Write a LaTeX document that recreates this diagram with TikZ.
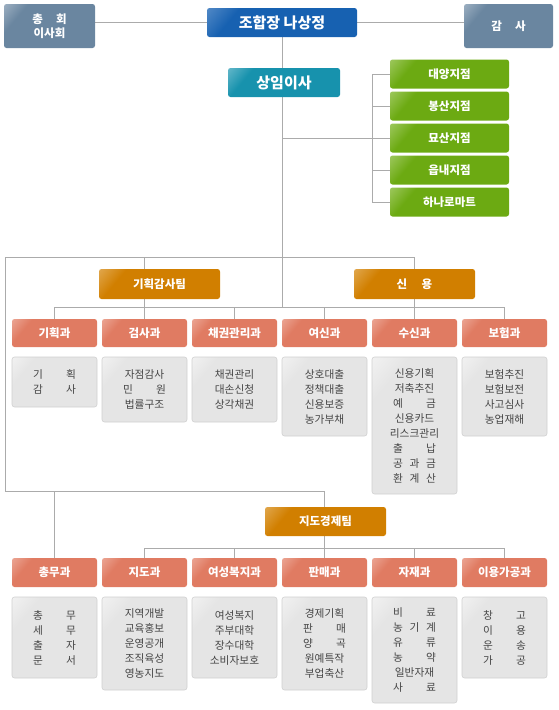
\documentclass[tikz,border=0pt]{standalone}
\usepackage{fontspec}
\setmainfont{Noto Sans CJK KR}
\usetikzlibrary{backgrounds}
\newcommand\mkgloss[3]{%
  \definecolor{#1Base}{HTML}{#2}\definecolor{#1Hi}{HTML}{#3}%
  \pgfdeclarehorizontalshading{#1gloss}{100bp}{color(0bp)=(#1Hi); color(28bp)=(#1Base); color(100bp)=(#1Base)}}
\mkgloss{steel}{6A86A0}{D3DCE5}
\mkgloss{chief}{1761B1}{8FB3DD}
\mkgloss{teal}{1792AD}{B5DFE8}
\mkgloss{leaf}{6CAA12}{D2E8AE}
\mkgloss{amber}{D17F00}{F1D2A0}
\mkgloss{salmon}{E07B62}{F7D3CA}
\mkgloss{paper}{E5E5E5}{FFFFFF}
\definecolor{lineC}{HTML}{ABABAB}
\definecolor{paperLine}{HTML}{D0D0D0}
\definecolor{inkC}{HTML}{454545}
\newcommand\sprd[2][4em]{\makebox[#1][s]{#2}}
\newcommand\placebox[7]{%
  \node[#6, minimum width={(#4-#2)*1pt}, minimum height={(#5-#3)*1pt}] (#1) at ({(#2+#4)/2},{(#3+#5)/2}) {#7};}
\tikzset{
  hbox/.style={rounded corners=2.5pt, inner sep=0pt, text=white, align=center,
    font=\bfseries\fontsize{11.5}{14}\selectfont, shading angle=-40},
  steelbox/.style={hbox, shading=steelgloss},
  chiefbox/.style={hbox, shading=chiefgloss, font=\bfseries\fontsize{15}{17}\selectfont},
  tealbox/.style={hbox, shading=tealgloss, font=\bfseries\fontsize{15}{17}\selectfont},
  leafbox/.style={hbox, shading=leafgloss},
  amberbox/.style={hbox, shading=ambergloss},
  salmonbox/.style={hbox, shading=salmongloss},
  paperbox/.style={rounded corners=2.5pt, inner sep=0pt, draw=paperLine, line width=0.6pt,
    shading=papergloss, shading angle=-40, text=inkC, align=center,
    font=\fontsize{10.7}{15}\selectfont},
  conn/.style={draw=lineC, line width=0.8pt}
}
\begin{document}
\begin{tikzpicture}[x=1pt,y=-1pt]
\useasboundingbox (0,0) rectangle (558,710);
% top level
\placebox{tg}{4}{4}{95}{48}{steelbox}{\sprd[3em]{총\hfill 회}\\이사회}
\placebox{chief}{207}{8}{357}{37}{chiefbox}{조합장 나상정}
\placebox{audit}{464}{4}{553}{48}{steelbox}{\sprd[3em]{감\hfill 사}}
\placebox{exec}{228}{68}{340}{97}{tealbox}{상임이사}
% branches
\placebox{g1}{390}{59.5}{509}{88.5}{leafbox}{대양지점}
\placebox{g2}{390}{91.5}{509}{120.5}{leafbox}{봉산지점}
\placebox{g3}{390}{123.5}{509}{152.5}{leafbox}{묘산지점}
\placebox{g4}{390}{155.5}{509}{184.5}{leafbox}{읍내지점}
\placebox{g5}{390}{187.5}{509}{216.5}{leafbox}{하나로마트}
% teams
\placebox{plan}{99}{269}{220}{299}{amberbox}{기획감사팀}
\placebox{credit}{354}{269}{475}{299}{amberbox}{\sprd[3.1em]{신\hfill 용}}
\placebox{guide}{265}{507}{386}{536}{amberbox}{지도경제팀}
% row 1 departments
\placebox{k1}{12}{319}{97}{347}{salmonbox}{기획과}
\placebox{k2}{102}{319}{187}{347}{salmonbox}{검사과}
\placebox{k3}{192}{319}{277}{347}{salmonbox}{채권관리과}
\placebox{k4}{282}{319}{367}{347}{salmonbox}{여신과}
\placebox{k5}{372}{319}{457}{347}{salmonbox}{수신과}
\placebox{k6}{462}{319}{547}{347}{salmonbox}{보험과}
% row 1 contents
\placebox{c1}{12}{357}{97}{407}{paperbox}{\sprd{기\hfill 획}\\\sprd{감\hfill 사}}
\placebox{c2}{102}{357}{187}{422}{paperbox}{자점감사\\\sprd{민\hfill 원}\\법률구조}
\placebox{c3}{192}{357}{277}{422}{paperbox}{채권관리\\대손신청\\상각채권}
\placebox{c4}{282}{357}{367}{436}{paperbox}{상호대출\\정책대출\\신용보증\\농가부채}
\placebox{c5}{372}{357}{457}{494}{paperbox}{신용기획\\저축추진\\\sprd{예\hfill 금}\\신용카드\\리스크관리\\\sprd{출\hfill 납}\\\sprd{공\hfill 과\hfill 금}\\\sprd{환\hfill 계\hfill 산}}
\placebox{c6}{462}{357}{547}{436}{paperbox}{보험추진\\보험보전\\사고심사\\농업재해}
% row 2 departments
\placebox{m1}{12}{558}{97}{587}{salmonbox}{총무과}
\placebox{m2}{102}{558}{187}{587}{salmonbox}{지도과}
\placebox{m3}{192}{558}{277}{587}{salmonbox}{여성복지과}
\placebox{m4}{282}{558}{367}{587}{salmonbox}{판매과}
\placebox{m5}{372}{558}{457}{587}{salmonbox}{자재과}
\placebox{m6}{462}{558}{547}{587}{salmonbox}{이용가공과}
% row 2 contents
\placebox{d1}{12}{597}{97}{678}{paperbox}{\sprd{총\hfill 무}\\\sprd{세\hfill 무}\\\sprd{출\hfill 자}\\\sprd{문\hfill 서}}
\placebox{d2}{102}{597}{187}{690}{paperbox}{지역개발\\교육홍보\\운영공개\\조직육성\\영농지도}
\placebox{d3}{192}{597}{277}{678}{paperbox}{여성복지\\주부대학\\장수대학\\소비자보호}
\placebox{d4}{282}{597}{367}{690}{paperbox}{경제기획\\\sprd{판\hfill 매}\\\sprd{양\hfill 곡}\\원예특작\\부업축산}
\placebox{d5}{372}{597}{457}{703}{paperbox}{\sprd{비\hfill 료}\\\sprd{농\hfill 기\hfill 계}\\\sprd{유\hfill 류}\\\sprd{농\hfill 약}\\일반자재\\\sprd{사\hfill 료}}
\placebox{d6}{462}{597}{547}{678}{paperbox}{\sprd{창\hfill 고}\\\sprd{이\hfill 용}\\\sprd{운\hfill 송}\\\sprd{가\hfill 공}}
% connectors
\begin{scope}[on background layer]
\coordinate (busA) at (0,307);
\coordinate (busB) at (0,548);
\coordinate (lt) at (5,257);
\coordinate (lb) at (5,491);
\coordinate (brk) at (372,0);
\draw[conn] (chief.west) -- (tg.east |- chief.west);
\draw[conn] (chief.east) -- (audit.west |- chief.east);
\draw[conn] (chief.south) -- (exec.north -| chief.south);
\draw[conn] (exec.south -| chief.south) -- (chief.south |- busA);
\draw[conn] (chief.south |- g3.west) -- (g3.west);
\draw[conn] (brk |- g1.west) -- (brk |- g5.west);
\foreach \g in {g1,g2,g4,g5} \draw[conn] (brk |- \g.west) -- (\g.west);
\draw[conn] (lb) -- (lt) -- (k5.north |- lt);
\draw[conn] (k2.north |- lt) -- (k2.north |- busA);
\draw[conn] (k5.north |- lt) -- (k5.north |- busA);
\draw[conn] (k1.north |- busA) -- (k6.north |- busA);
\foreach \k in {k1,k2,k3,k4,k5,k6} \draw[conn] (\k.north |- busA) -- (\k.north);
\draw[conn] (lb) -- (m4.north |- lb) -- (m4.north |- busB);
\draw[conn] (m1.north |- lb) -- (m1.north);
\draw[conn] (m2.north |- busB) -- (m6.north |- busB);
\foreach \m in {m2,m3,m4,m5,m6} \draw[conn] (\m.north |- busB) -- (\m.north);
\end{scope}
\end{tikzpicture}
\end{document}
